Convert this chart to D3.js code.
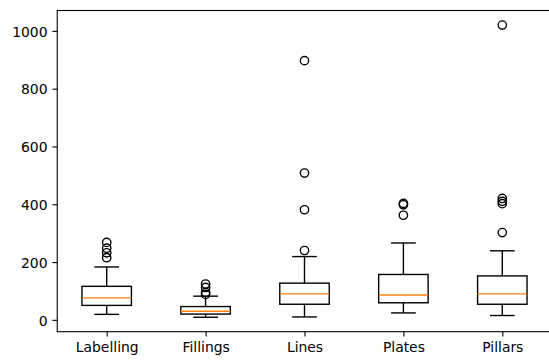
<!DOCTYPE html>
<html><head><meta charset="utf-8">
<script src="https://cdn.jsdelivr.net/npm/d3@7"></script>
<style>html,body{margin:0;padding:0;background:#fff;}svg{display:block;}</style>
</head><body>
<script>
// Box statistics per category
const categories = ["Labelling", "Fillings", "Lines", "Plates", "Pillars"];
const whiskerLow  = [19, 9, 10, 24, 15];
const q1          = [50, 20, 54, 59, 54];
const medians     = [76, 30, 90, 86, 90];
const q3          = [116, 46, 127, 157, 152];
const whiskerHigh = [183, 82, 219, 266, 239];
const outliers = [
  [268, 248, 232, 215],
  [124, 112, 95, 88],
  [897, 508, 381, 240],
  [403, 398, 362],
  [1020, 420, 410, 402, 302]
];
const yTicks = [0, 200, 400, 600, 800, 1000];

const W = 549, H = 360;
const plotL = 57.25, plotR = 551.75, plotT = 10.5, plotB = 331.7;
const fontSize = 13.9, tickLen = 4.86;

const svg = d3.select("body").append("svg").attr("width", W).attr("height", H)
  .style("font-family", "'DejaVu Sans', sans-serif");
svg.append("rect").attr("width", W).attr("height", H).attr("fill", "#fff");

const x = d3.scaleLinear().domain([0.5, 5.5]).range([plotL, plotR]);
const y = d3.scaleLinear().domain([-41, 1070.5]).range([plotB, plotT]);

const data = categories.map((c, i) => ({
  name: c, pos: i + 1, lo: whiskerLow[i], q1: q1[i], med: medians[i],
  q3: q3[i], hi: whiskerHigh[i], fliers: outliers[i]
}));

const g = svg.append("g");
const boxHalf = 0.25, capHalf = 0.125;

const boxes = g.selectAll("g.box").data(data).join("g").attr("class", "box");
// whiskers
boxes.append("line").attr("x1", d => x(d.pos)).attr("x2", d => x(d.pos))
  .attr("y1", d => y(d.q1)).attr("y2", d => y(d.lo)).attr("stroke", "#000").attr("stroke-width", 1.39);
boxes.append("line").attr("x1", d => x(d.pos)).attr("x2", d => x(d.pos))
  .attr("y1", d => y(d.q3)).attr("y2", d => y(d.hi)).attr("stroke", "#000").attr("stroke-width", 1.39);
// caps
boxes.append("line").attr("x1", d => x(d.pos - capHalf)).attr("x2", d => x(d.pos + capHalf))
  .attr("y1", d => y(d.lo)).attr("y2", d => y(d.lo)).attr("stroke", "#000").attr("stroke-width", 1.39);
boxes.append("line").attr("x1", d => x(d.pos - capHalf)).attr("x2", d => x(d.pos + capHalf))
  .attr("y1", d => y(d.hi)).attr("y2", d => y(d.hi)).attr("stroke", "#000").attr("stroke-width", 1.39);
// box
boxes.append("rect").attr("x", d => x(d.pos - boxHalf)).attr("width", d => x(d.pos + boxHalf) - x(d.pos - boxHalf))
  .attr("y", d => y(d.q3)).attr("height", d => y(d.q1) - y(d.q3))
  .attr("fill", "none").attr("stroke", "#000").attr("stroke-width", 1.39);
// median
boxes.append("line").attr("x1", d => x(d.pos - boxHalf)).attr("x2", d => x(d.pos + boxHalf))
  .attr("y1", d => y(d.med)).attr("y2", d => y(d.med)).attr("stroke", "#ff7f0e").attr("stroke-width", 1.39);
// fliers
boxes.selectAll("circle").data(d => d.fliers.map(v => ({pos: d.pos, v}))).join("circle")
  .attr("cx", d => x(d.pos)).attr("cy", d => y(d.v)).attr("r", 4.17)
  .attr("fill", "none").attr("stroke", "#000").attr("stroke-width", 1.39);

// axes
const yAxis = svg.append("g").attr("transform", `translate(${plotL},0)`)
  .call(d3.axisLeft(y).tickValues(yTicks).tickSize(tickLen).tickPadding(4.86).tickFormat(d3.format("d")));
yAxis.select(".domain").remove();
yAxis.selectAll("text").attr("font-size", fontSize).attr("font-family", "'DejaVu Sans', sans-serif")
  .attr("fill", "#000").attr("dy", null).attr("y", 5.2);
yAxis.selectAll("line").attr("stroke", "#000").attr("stroke-width", 1.1);

const xAxis = svg.append("g").attr("transform", `translate(0,${plotB})`)
  .call(d3.axisBottom(x).tickValues(data.map(d => d.pos)).tickSize(tickLen).tickPadding(4.86)
    .tickFormat((d, i) => categories[i]));
xAxis.select(".domain").remove();
xAxis.selectAll("text").attr("font-size", fontSize).attr("font-family", "'DejaVu Sans', sans-serif")
  .attr("fill", "#000").attr("dy", null).attr("y", 20.8);
xAxis.selectAll("line").attr("stroke", "#000").attr("stroke-width", 1.1);

// frame
svg.append("rect").attr("x", plotL).attr("y", plotT).attr("width", plotR - plotL).attr("height", plotB - plotT)
  .attr("fill", "none").attr("stroke", "#000").attr("stroke-width", 1.1);
</script>
</body></html>
